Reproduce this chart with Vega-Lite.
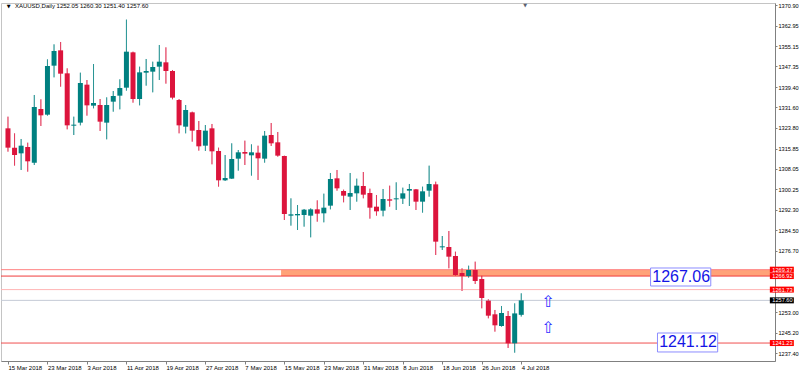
{
  "$schema": "https://vega.github.io/schema/vega-lite/v6.json",
  "width": 774,
  "height": 358,
  "padding": {"top": 3, "left": 0, "right": 0, "bottom": 0},
  "background": "white",
  "config": {
    "view": {"stroke": "#c4c4c4", "strokeWidth": 1},
    "font": "Liberation Sans",
    "axis": {"labelOverlap": false, "grid": false}
  },
  "datasets": {
    "bars": [
      {"i": 0, "d": "2018-03-15", "o": 1323.59, "h": 1328.07, "l": 1314.64, "c": 1316.18},
      {"i": 1, "d": "2018-03-16", "o": 1316.18, "h": 1321.67, "l": 1309.27, "c": 1313.36},
      {"i": 2, "d": "2018-03-19", "o": 1314.0, "h": 1319.5, "l": 1307.61, "c": 1316.94},
      {"i": 3, "d": "2018-03-20", "o": 1316.43, "h": 1318.09, "l": 1306.97, "c": 1310.94},
      {"i": 4, "d": "2018-03-21", "o": 1310.42, "h": 1336.38, "l": 1309.53, "c": 1331.77},
      {"i": 5, "d": "2018-03-22", "o": 1331.01, "h": 1334.72, "l": 1324.49, "c": 1328.58},
      {"i": 6, "d": "2018-03-23", "o": 1328.83, "h": 1350.06, "l": 1328.45, "c": 1347.5},
      {"i": 7, "d": "2018-03-26", "o": 1347.63, "h": 1355.81, "l": 1343.15, "c": 1353.26},
      {"i": 8, "d": "2018-03-27", "o": 1353.51, "h": 1356.71, "l": 1339.57, "c": 1344.56},
      {"i": 9, "d": "2018-03-28", "o": 1344.69, "h": 1346.61, "l": 1323.21, "c": 1324.74},
      {"i": 10, "d": "2018-03-29", "o": 1324.61, "h": 1328.07, "l": 1321.03, "c": 1325.0},
      {"i": 11, "d": "2018-04-02", "o": 1325.77, "h": 1344.94, "l": 1324.74, "c": 1340.98},
      {"i": 12, "d": "2018-04-03", "o": 1340.34, "h": 1342.13, "l": 1328.45, "c": 1332.41},
      {"i": 13, "d": "2018-04-04", "o": 1332.29, "h": 1348.27, "l": 1331.26, "c": 1333.31},
      {"i": 14, "d": "2018-04-05", "o": 1332.54, "h": 1334.84, "l": 1322.57, "c": 1326.15},
      {"i": 15, "d": "2018-04-06", "o": 1325.77, "h": 1335.48, "l": 1319.37, "c": 1332.54},
      {"i": 16, "d": "2018-04-09", "o": 1333.82, "h": 1337.91, "l": 1329.98, "c": 1336.0},
      {"i": 17, "d": "2018-04-10", "o": 1336.12, "h": 1342.39, "l": 1330.88, "c": 1339.06},
      {"i": 18, "d": "2018-04-11", "o": 1339.19, "h": 1365.3, "l": 1338.04, "c": 1353.0},
      {"i": 19, "d": "2018-04-12", "o": 1352.74, "h": 1353.0, "l": 1333.44, "c": 1334.84},
      {"i": 20, "d": "2018-04-13", "o": 1334.84, "h": 1347.25, "l": 1332.41, "c": 1345.07},
      {"i": 21, "d": "2018-04-16", "o": 1344.94, "h": 1350.19, "l": 1339.96, "c": 1345.58},
      {"i": 22, "d": "2018-04-17", "o": 1345.33, "h": 1349.16, "l": 1337.4, "c": 1347.12},
      {"i": 23, "d": "2018-04-18", "o": 1347.25, "h": 1355.56, "l": 1342.13, "c": 1349.16},
      {"i": 24, "d": "2018-04-19", "o": 1348.91, "h": 1354.66, "l": 1340.73, "c": 1345.58},
      {"i": 25, "d": "2018-04-20", "o": 1345.58, "h": 1345.97, "l": 1334.72, "c": 1335.36},
      {"i": 26, "d": "2018-04-23", "o": 1334.46, "h": 1334.84, "l": 1321.67, "c": 1324.74},
      {"i": 27, "d": "2018-04-24", "o": 1324.23, "h": 1332.54, "l": 1321.67, "c": 1330.62},
      {"i": 28, "d": "2018-04-25", "o": 1329.73, "h": 1329.98, "l": 1318.48, "c": 1322.7},
      {"i": 29, "d": "2018-04-26", "o": 1322.95, "h": 1326.41, "l": 1315.03, "c": 1316.69},
      {"i": 30, "d": "2018-04-27", "o": 1316.94, "h": 1324.87, "l": 1314.9, "c": 1322.7},
      {"i": 31, "d": "2018-04-30", "o": 1323.59, "h": 1325.26, "l": 1309.78, "c": 1314.77},
      {"i": 32, "d": "2018-05-01", "o": 1314.9, "h": 1316.18, "l": 1301.22, "c": 1303.65},
      {"i": 33, "d": "2018-05-02", "o": 1303.65, "h": 1313.36, "l": 1303.39, "c": 1304.54},
      {"i": 34, "d": "2018-05-03", "o": 1304.29, "h": 1317.84, "l": 1304.16, "c": 1311.83},
      {"i": 35, "d": "2018-05-04", "o": 1311.96, "h": 1315.28, "l": 1307.36, "c": 1314.39},
      {"i": 36, "d": "2018-05-07", "o": 1314.52, "h": 1318.86, "l": 1309.53, "c": 1313.88},
      {"i": 37, "d": "2018-05-08", "o": 1313.24, "h": 1317.46, "l": 1305.44, "c": 1314.39},
      {"i": 38, "d": "2018-05-09", "o": 1314.26, "h": 1316.94, "l": 1303.78, "c": 1312.09},
      {"i": 39, "d": "2018-05-10", "o": 1311.96, "h": 1322.57, "l": 1310.42, "c": 1320.78},
      {"i": 40, "d": "2018-05-11", "o": 1321.03, "h": 1325.64, "l": 1316.82, "c": 1317.84},
      {"i": 41, "d": "2018-05-14", "o": 1318.22, "h": 1322.19, "l": 1312.72, "c": 1313.11},
      {"i": 42, "d": "2018-05-15", "o": 1312.98, "h": 1313.1, "l": 1288.43, "c": 1290.73},
      {"i": 43, "d": "2018-05-16", "o": 1290.09, "h": 1296.74, "l": 1286.26, "c": 1290.6},
      {"i": 44, "d": "2018-05-17", "o": 1290.22, "h": 1294.18, "l": 1284.59, "c": 1290.73},
      {"i": 45, "d": "2018-05-18", "o": 1290.35, "h": 1292.65, "l": 1285.87, "c": 1292.39},
      {"i": 46, "d": "2018-05-21", "o": 1290.09, "h": 1292.9, "l": 1281.78, "c": 1292.52},
      {"i": 47, "d": "2018-05-22", "o": 1292.52, "h": 1295.97, "l": 1287.79, "c": 1290.86},
      {"i": 48, "d": "2018-05-23", "o": 1290.99, "h": 1298.53, "l": 1287.53, "c": 1293.16},
      {"i": 49, "d": "2018-05-24", "o": 1293.93, "h": 1306.46, "l": 1292.52, "c": 1304.16},
      {"i": 50, "d": "2018-05-25", "o": 1304.41, "h": 1307.61, "l": 1299.68, "c": 1300.58},
      {"i": 51, "d": "2018-05-28", "o": 1299.55, "h": 1300.07, "l": 1295.21, "c": 1297.76},
      {"i": 52, "d": "2018-05-29", "o": 1297.38, "h": 1306.46, "l": 1292.27, "c": 1298.79},
      {"i": 53, "d": "2018-05-30", "o": 1298.66, "h": 1304.29, "l": 1295.46, "c": 1301.6},
      {"i": 54, "d": "2018-05-31", "o": 1301.47, "h": 1306.84, "l": 1296.74, "c": 1298.15},
      {"i": 55, "d": "2018-06-01", "o": 1298.79, "h": 1300.45, "l": 1288.94, "c": 1293.16},
      {"i": 56, "d": "2018-06-04", "o": 1293.54, "h": 1298.02, "l": 1290.09, "c": 1291.76},
      {"i": 57, "d": "2018-06-05", "o": 1292.01, "h": 1300.32, "l": 1289.84, "c": 1296.48},
      {"i": 58, "d": "2018-06-06", "o": 1296.36, "h": 1301.6, "l": 1293.54, "c": 1295.85},
      {"i": 59, "d": "2018-06-07", "o": 1296.36, "h": 1302.88, "l": 1292.27, "c": 1296.74},
      {"i": 60, "d": "2018-06-08", "o": 1296.61, "h": 1300.83, "l": 1294.57, "c": 1298.66},
      {"i": 61, "d": "2018-06-11", "o": 1299.68, "h": 1302.24, "l": 1293.8, "c": 1300.32},
      {"i": 62, "d": "2018-06-12", "o": 1300.19, "h": 1300.32, "l": 1292.27, "c": 1295.46},
      {"i": 63, "d": "2018-06-13", "o": 1295.46, "h": 1301.22, "l": 1291.24, "c": 1299.43},
      {"i": 64, "d": "2018-06-14", "o": 1299.68, "h": 1309.27, "l": 1297.38, "c": 1302.24},
      {"i": 65, "d": "2018-06-15", "o": 1302.11, "h": 1303.13, "l": 1275.0, "c": 1280.12},
      {"i": 66, "d": "2018-06-18", "o": 1277.94, "h": 1282.29, "l": 1276.92, "c": 1278.33},
      {"i": 67, "d": "2018-06-19", "o": 1278.07, "h": 1284.21, "l": 1269.89, "c": 1274.36},
      {"i": 68, "d": "2018-06-20", "o": 1274.62, "h": 1276.28, "l": 1266.95, "c": 1267.33},
      {"i": 69, "d": "2018-06-21", "o": 1268.1, "h": 1269.89, "l": 1261.2, "c": 1266.95},
      {"i": 70, "d": "2018-06-22", "o": 1266.95, "h": 1270.91, "l": 1266.31, "c": 1269.25},
      {"i": 71, "d": "2018-06-25", "o": 1269.25, "h": 1272.45, "l": 1263.88, "c": 1265.03},
      {"i": 72, "d": "2018-06-26", "o": 1265.8, "h": 1267.08, "l": 1254.55, "c": 1258.51},
      {"i": 73, "d": "2018-06-27", "o": 1257.49, "h": 1258.0, "l": 1250.71, "c": 1251.73},
      {"i": 74, "d": "2018-06-28", "o": 1252.25, "h": 1253.91, "l": 1245.6, "c": 1248.03},
      {"i": 75, "d": "2018-06-29", "o": 1247.77, "h": 1255.44, "l": 1247.51, "c": 1252.76},
      {"i": 76, "d": "2018-07-02", "o": 1251.61, "h": 1253.52, "l": 1239.33, "c": 1241.12},
      {"i": 77, "d": "2018-07-03", "o": 1241.12, "h": 1256.46, "l": 1237.54, "c": 1252.6},
      {"i": 78, "d": "2018-07-04", "o": 1252.05, "h": 1260.3, "l": 1251.4, "c": 1257.6}
    ]
  },
  "layer": [
    {
      "data": {"name": "bars"},
      "mark": {"type": "rule", "strokeWidth": 1, "opacity": 0.6},
      "encoding": {
        "x": {
          "field": "i",
          "type": "quantitative",
          "scale": {"domain": [-0.3, 115.8], "nice": false, "zero": false},
          "axis": {
            "values": [0, 6, 12, 18, 24, 30, 36, 42, 48, 54, 60, 66, 72, 78],
            "tickCount": 40,
            "labelExpr": "['15 Mar 2018','23 Mar 2018','3 Apr 2018','11 Apr 2018','19 Apr 2018','27 Apr 2018','7 May 2018','15 May 2018','23 May 2018','31 May 2018','8 Jun 2018','18 Jun 2018','26 Jun 2018','4 Jul 2018'][round(datum.value/6)]",
            "labelAlign": "left",
            "labelDx": -1,
            "labelFontSize": 6,
            "labelColor": "#000000",
            "tickSize": 3,
            "tickColor": "#808080",
            "domainColor": "#808080",
            "labelPadding": 0,
            "grid": false,
            "title": null,
            "labelOverlap": false,
            "labelFlush": false,
            "labelBound": false
          }
        },
        "y": {
          "field": "l",
          "type": "quantitative",
          "scale": {"domain": [1234.34, 1371.67], "nice": false, "zero": false},
          "axis": {
            "orient": "right",
            "values": [1370.9, 1362.95, 1355.15, 1347.35, 1339.4, 1331.6, 1323.8, 1315.85, 1308.05, 1300.25, 1292.3, 1284.5, 1276.7, 1253.0, 1245.2, 1237.4],
            "tickCount": 40,
            "format": ".2f",
            "labelFontSize": 5.6,
            "labelColor": "#000000",
            "tickSize": 2,
            "tickColor": "#808080",
            "domainColor": "#808080",
            "labelPadding": 1,
            "grid": false,
            "title": null,
            "labelOverlap": false,
            "labelFlush": false,
            "labelBound": false
          }
        },
        "y2": {"field": "h"},
        "color": {
          "condition": {"test": "datum.c >= datum.o", "value": "#008080"},
          "value": "#DC143C"
        }
      }
    },
    {
      "data": {"values": [{}]},
      "mark": {"type": "rect", "color": "#FFA278", "opacity": 1},
      "encoding": {
        "x": {"datum": 41.5},
        "x2": {"datum": 115.8},
        "y": {"datum": 1269.37},
        "y2": {"datum": 1266.92}
      }
    },
    {
      "data": {"values": [{}]},
      "mark": {"type": "rule", "color": "#FF8080", "strokeWidth": 1},
      "encoding": {"y": {"datum": 1269.37}}
    },
    {
      "data": {"values": [{}]},
      "mark": {"type": "rule", "color": "#F03C3C", "strokeWidth": 1},
      "encoding": {"y": {"datum": 1266.92}}
    },
    {
      "data": {"values": [{}]},
      "mark": {"type": "rule", "color": "#FFB4B4", "strokeWidth": 1},
      "encoding": {"y": {"datum": 1261.73}}
    },
    {
      "data": {"values": [{}]},
      "mark": {"type": "rule", "color": "#C4CAD6", "strokeWidth": 1},
      "encoding": {"y": {"datum": 1257.6}}
    },
    {
      "data": {"values": [{}]},
      "mark": {"type": "rule", "color": "#F05050", "strokeWidth": 1},
      "encoding": {"y": {"datum": 1241.23}}
    },
    {
      "data": {"name": "bars"},
      "mark": {"type": "rule", "strokeWidth": 1, "opacity": 0.6},
      "encoding": {
        "x": {"field": "i", "type": "quantitative"},
        "y": {"field": "l", "type": "quantitative"},
        "y2": {"field": "h"},
        "color": {
          "condition": {"test": "datum.c >= datum.o", "value": "#008080"},
          "value": "#DC143C"
        }
      }
    },
    {
      "data": {"name": "bars"},
      "mark": {"type": "bar", "size": 5},
      "encoding": {
        "x": {"field": "i", "type": "quantitative"},
        "y": {"field": "o", "type": "quantitative"},
        "y2": {"field": "c"},
        "color": {
          "condition": {"test": "datum.c >= datum.o", "value": "#008080"},
          "value": "#DC143C"
        }
      }
    },
    {
      "data": {"values": [{"p": 1269.37, "k": "red"}, {"p": 1266.92, "k": "red"}, {"p": 1261.73, "k": "red"}, {"p": 1257.6, "k": "black"}, {"p": 1241.23, "k": "red"}]},
      "mark": {"type": "tick", "orient": "horizontal", "thickness": 6, "size": 24, "opacity": 1},
      "encoding": {
        "x": {"datum": 117.6},
        "y": {"field": "p", "type": "quantitative"},
        "color": {"field": "k", "type": "nominal", "scale": {"domain": ["red", "black"], "range": ["#FF0000", "#000000"]}, "legend": null}
      }
    },
    {
      "data": {"values": [{"p": 1269.37}, {"p": 1266.92}, {"p": 1261.73}, {"p": 1257.6}, {"p": 1241.23}]},
      "mark": {"type": "text", "align": "left", "baseline": "middle", "fontSize": 5.6, "color": "#FFFFFF"},
      "encoding": {
        "x": {"datum": 116.15},
        "y": {"field": "p", "type": "quantitative"},
        "text": {"field": "p", "type": "quantitative", "format": ".2f"}
      }
    },
    {
      "data": {"values": [{"lab": "1267.06", "xa": 97.65, "xb": 106.8, "ya": 1270.02, "yb": 1263.11}, {"lab": "1241.12", "xa": 98.7, "xb": 107.85, "ya": 1245.08, "yb": 1237.8}]},
      "mark": {"type": "rect", "fill": "#FFFFFF", "stroke": "#8C8CFF", "strokeWidth": 1},
      "encoding": {
        "x": {"field": "xa", "type": "quantitative"},
        "x2": {"field": "xb"},
        "y": {"field": "ya", "type": "quantitative"},
        "y2": {"field": "yb"}
      }
    },
    {
      "data": {"values": [{"lab": "1267.06", "xm": 102.3, "ym": 1266.56}, {"lab": "1241.12", "xm": 103.35, "ym": 1241.44}]},
      "mark": {"type": "text", "align": "center", "baseline": "middle", "fontSize": 16, "color": "#1414E6", "font": "Liberation Sans"},
      "encoding": {
        "x": {"field": "xm", "type": "quantitative"},
        "y": {"field": "ym", "type": "quantitative"},
        "text": {"field": "lab"}
      }
    },
    {
      "data": {"values": [{"p": 1257.0}, {"p": 1247.1}]},
      "mark": {"type": "text", "align": "center", "baseline": "middle", "fontSize": 16, "color": "#3030FF", "font": "DejaVu Sans", "text": "⇧"},
      "encoding": {
        "x": {"datum": 82.05},
        "y": {"field": "p", "type": "quantitative"}
      }
    },
    {
      "data": {"values": [{}]},
      "mark": {"type": "text", "align": "left", "baseline": "middle", "fontSize": 6, "color": "#000000", "text": "XAUUSD,Daily  1252.05 1260.30 1251.40 1257.60"},
      "encoding": {"x": {"datum": 1.05}, "y": {"datum": 1370.44}}
    },
    {
      "data": {"values": [{}]},
      "mark": {"type": "text", "align": "center", "baseline": "middle", "fontSize": 5, "color": "#000000", "font": "DejaVu Sans", "text": "▼"},
      "encoding": {"x": {"datum": 0.1}, "y": {"datum": 1370.5}}
    },
    {
      "data": {"values": [{}]},
      "mark": {"type": "text", "align": "center", "baseline": "top", "fontSize": 5, "color": "#5A6070", "font": "DejaVu Sans", "text": "▼"},
      "encoding": {"x": {"datum": 78.6}, "y": {"datum": 1371.67}}
    }
  ]
}
